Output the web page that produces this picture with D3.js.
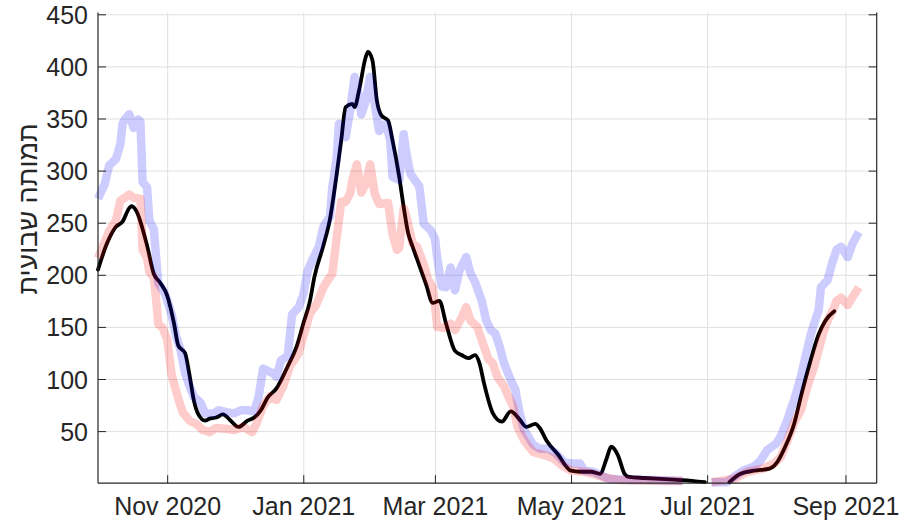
<!DOCTYPE html>
<html><head><meta charset="utf-8">
<script src="https://cdn.jsdelivr.net/npm/d3@7"></script>
<style>body{margin:0;background:#fff} svg{display:block}</style>
</head><body><svg id="c" width="909" height="526"></svg>
<script>
// ---- data ----
const xTickDates = ["2020-11-01","2021-01-01","2021-03-01","2021-05-01","2021-07-01","2021-09-01"];
const yTicks = [50,100,150,200,250,300,350,400,450];
const yLabel = "תמותה שבועית";

const blackSeries = [
["2020-10-01",205],["2020-10-05",230],["2020-10-09",246],["2020-10-12",251],["2020-10-15",264],["2020-10-16",266],
["2020-10-18",262],["2020-10-23",228],["2020-10-26",201],["2020-10-29",192],["2020-11-01",180],["2020-11-04",154],
["2020-11-06",132],["2020-11-09",125],["2020-11-11",104],["2020-11-13",79],["2020-11-15",66],["2020-11-18",60],
["2020-11-20",62],["2020-11-23",63],["2020-11-26",66],["2020-11-29",61],["2020-12-03",54],["2020-12-07",60],
["2020-12-10",63],["2020-12-13",70],["2020-12-16",82],["2020-12-20",91],["2020-12-25",112],["2020-12-29",131],
["2021-01-01",153],["2021-01-04",175],["2021-01-06",198],["2021-01-10",228],["2021-01-13",254],["2021-01-16",297],
["2021-01-18",329],["2021-01-20",361],["2021-01-23",364],["2021-01-24",361],["2021-01-26",377],["2021-01-29",409],
["2021-01-30",414],["2021-02-01",406],["2021-02-03",367],["2021-02-05",353],["2021-02-08",348],["2021-02-10",329],
["2021-02-13",294],["2021-02-15",265],["2021-02-17",240],["2021-02-19",227],["2021-02-21",215],["2021-02-25",191],
["2021-02-28",173],["2021-03-03",175],["2021-03-06",153],["2021-03-10",127],["2021-03-13",123],["2021-03-16",120],
["2021-03-19",123],["2021-03-21",115],["2021-03-23",96],["2021-03-27",67],["2021-03-31",59],["2021-04-04",69],
["2021-04-08",61],["2021-04-11",54],["2021-04-15",57],["2021-04-17",53],["2021-04-20",41],["2021-04-25",28],
["2021-05-01",12],["2021-05-05",11],["2021-05-10",11],["2021-05-14",9],["2021-05-17",24],["2021-05-19",35],
["2021-05-22",27],["2021-05-25",9],["2021-05-27",6],["2021-06-03",5],["2021-06-12",4],["2021-06-20",3],
["2021-06-30",1],["2021-07-05",null],["2021-07-11",1],["2021-07-16",9],["2021-07-22",12],["2021-07-29",14],
["2021-08-01",19],["2021-08-05",35],["2021-08-09",57],["2021-08-12",83],["2021-08-16",115],["2021-08-20",143],
["2021-08-23",156],["2021-08-27",165]
];

const blueSeries = [
["2020-10-01",273],["2020-10-04",287],["2020-10-06",305],["2020-10-09",311],["2020-10-11",325],["2020-10-12",345],
["2020-10-13",349],["2020-10-15",354],["2020-10-17",341],["2020-10-19",349],["2020-10-20",347],["2020-10-21",289],
["2020-10-23",284],["2020-10-24",252],["2020-10-26",244],["2020-10-28",192],["2020-10-31",182],["2020-11-03",162],
["2020-11-05",141],["2020-11-07",128],["2020-11-09",106],["2020-11-11",93],["2020-11-13",83],["2020-11-16",77],
["2020-11-18",67],["2020-11-22",67],["2020-11-24",70],["2020-11-28",68],["2020-12-01",67],["2020-12-04",70],
["2020-12-07",70],["2020-12-10",69],["2020-12-12",83],["2020-12-14",110],["2020-12-18",106],["2020-12-20",102],
["2020-12-22",118],["2020-12-25",122],["2020-12-27",162],["2020-12-30",169],["2021-01-01",181],["2021-01-03",204],
["2021-01-05",214],["2021-01-08",227],["2021-01-10",246],["2021-01-13",256],["2021-01-14",284],["2021-01-16",313],
["2021-01-17",345],["2021-01-20",332],["2021-01-22",358],["2021-01-24",390],["2021-01-26",370],["2021-01-27",354],
["2021-01-29",367],["2021-01-31",390],["2021-02-02",364],["2021-02-04",338],["2021-02-07",345],["2021-02-09",329],
["2021-02-10",294],["2021-02-13",291],["2021-02-15",335],["2021-02-16",319],["2021-02-18",297],["2021-02-20",291],
["2021-02-22",285],["2021-02-24",249],["2021-02-27",243],["2021-03-01",235],["2021-03-02",217],["2021-03-04",189],
["2021-03-06",188],["2021-03-08",207],["2021-03-10",185],["2021-03-12",204],["2021-03-15",217],["2021-03-17",201],
["2021-03-19",193],["2021-03-22",175],["2021-03-24",156],["2021-03-26",147],["2021-03-28",144],["2021-03-30",131],
["2021-04-01",115],["2021-04-04",99],["2021-04-06",90],["2021-04-08",67],["2021-04-10",51],["2021-04-14",37],
["2021-04-17",33],["2021-04-21",33],["2021-04-24",29],["2021-04-28",20],["2021-05-01",19],["2021-05-05",19],
["2021-05-07",12],["2021-05-11",11],["2021-05-14",8],["2021-05-18",4],["2021-05-27",3],["2021-06-07",3],
["2021-06-20",2],["2021-06-26",null],["2021-07-03",1],["2021-07-10",1],["2021-07-13",6],["2021-07-17",12],
["2021-07-22",16],["2021-07-25",22],["2021-07-28",32],["2021-08-01",38],["2021-08-03",45],["2021-08-06",61],
["2021-08-08",74],["2021-08-09",80],["2021-08-12",102],["2021-08-14",121],["2021-08-17",147],["2021-08-20",166],
["2021-08-21",188],["2021-08-24",195],["2021-08-26",211],["2021-08-28",224],["2021-08-30",227],["2021-09-02",217],
["2021-09-04",229],["2021-09-07",241]
];

const redSeries = [
["2020-10-01",216],["2020-10-03",226],["2020-10-06",242],["2020-10-09",252],["2020-10-11",271],["2020-10-13",274],
["2020-10-15",277],["2020-10-17",274],["2020-10-20",273],["2020-10-21",224],["2020-10-23",216],["2020-10-24",203],
["2020-10-26",197],["2020-10-27",178],["2020-10-28",153],["2020-10-30",149],["2020-11-01",138],["2020-11-03",104],
["2020-11-06",81],["2020-11-08",68],["2020-11-11",60],["2020-11-14",57],["2020-11-17",51],["2020-11-20",49],
["2020-11-23",53],["2020-11-28",52],["2020-12-01",51],["2020-12-05",54],["2020-12-09",49],["2020-12-11",57],
["2020-12-14",74],["2020-12-17",83],["2020-12-20",80],["2020-12-23",93],["2020-12-26",112],["2020-12-30",125],
["2021-01-01",141],["2021-01-04",163],["2021-01-07",172],["2021-01-10",188],["2021-01-12",195],["2021-01-14",201],
["2021-01-17",253],["2021-01-18",270],["2021-01-20",270],["2021-01-22",278],["2021-01-23",291],["2021-01-25",306],
["2021-01-27",279],["2021-01-29",287],["2021-01-31",306],["2021-02-02",278],["2021-02-04",268],["2021-02-08",269],
["2021-02-10",239],["2021-02-12",224],["2021-02-13",226],["2021-02-15",264],["2021-02-16",258],["2021-02-19",230],
["2021-02-21",227],["2021-02-24",210],["2021-02-26",195],["2021-02-28",188],["2021-03-01",172],["2021-03-02",150],
["2021-03-05",149],["2021-03-08",153],["2021-03-10",147],["2021-03-13",159],["2021-03-15",169],["2021-03-17",156],
["2021-03-20",150],["2021-03-23",131],["2021-03-25",119],["2021-03-27",115],["2021-03-29",102],["2021-04-01",93],
["2021-04-03",83],["2021-04-05",74],["2021-04-07",54],["2021-04-10",41],["2021-04-14",30],["2021-04-19",27],
["2021-04-23",24],["2021-04-27",17],["2021-05-01",12],["2021-05-07",11],["2021-05-11",9],["2021-05-15",6],
["2021-05-23",3],["2021-06-13",2],["2021-06-20",2],["2021-06-26",null],["2021-07-03",1],["2021-07-13",4],
["2021-07-19",11],["2021-07-26",14],["2021-07-31",19],["2021-08-03",25],["2021-08-06",41],["2021-08-09",58],
["2021-08-12",70],["2021-08-15",93],["2021-08-18",112],["2021-08-20",128],["2021-08-22",144],["2021-08-24",156],
["2021-08-27",169],["2021-08-28",175],["2021-08-30",178],["2021-09-02",171],["2021-09-04",178],["2021-09-07",188]
];

// ---- drawing ----
const parse = d3.utcParse("%Y-%m-%d");
const svg = d3.select("#c");
const L = 98, R = 876.7, T = 12.5, B = 483.2;
const x = d3.scaleUtc().domain([parse("2020-10-01"), parse("2021-09-15")]).range([L, R]);
const y = d3.scaleLinear().domain([0, 450]).range([B, 14.3]);
const font = "'Liberation Sans', Arial, Helvetica, sans-serif";
const ink = "#262626";
const gridC = "#dfdfdf";

// grid
const gx = svg.append("g").attr("transform", `translate(0,${B})`)
  .call(d3.axisBottom(x).tickValues(xTickDates.map(parse)).tickSize(-(B - T)).tickFormat(""));
gx.select(".domain").remove();
gx.selectAll("line").attr("stroke", gridC).attr("stroke-width", 1);
const gy = svg.append("g").attr("transform", `translate(${L},0)`)
  .call(d3.axisLeft(y).tickValues(yTicks).tickSize(-(R - L)).tickFormat(""));
gy.select(".domain").remove();
gy.selectAll("line").attr("stroke", gridC).attr("stroke-width", 1);

// lines
const lineSharp = d3.line()
  .defined(d => d[1] !== null)
  .x(d => x(parse(d[0])))
  .y(d => y(d[1]))
  .curve(d3.curveLinear);
const lineSmooth = d3.line()
  .defined(d => d[1] !== null)
  .x(d => x(parse(d[0])))
  .y(d => y(d[1]))
  .curve(d3.curveMonotoneX);

svg.append("path").datum(blackSeries).attr("d", lineSmooth)
  .attr("fill", "none").attr("stroke", "#000").attr("stroke-width", 3.8)
  .attr("stroke-linejoin", "round").attr("stroke-linecap", "round");
svg.append("path").datum(blueSeries).attr("d", lineSharp)
  .attr("fill", "none").attr("stroke", "rgb(0,0,255)").attr("stroke-opacity", 0.2).attr("stroke-width", 8.5)
  .attr("stroke-linejoin", "round").attr("stroke-linecap", "butt");
svg.append("path").datum(redSeries).attr("d", lineSharp)
  .attr("fill", "none").attr("stroke", "rgb(255,0,0)").attr("stroke-opacity", 0.2).attr("stroke-width", 8.5)
  .attr("stroke-linejoin", "round").attr("stroke-linecap", "butt");

// axes with ticks
const ax = svg.append("g").attr("transform", `translate(0,${B})`)
  .call(d3.axisBottom(x).tickValues(xTickDates.map(parse)).tickFormat(d3.utcFormat("%b %Y")).tickSize(-8).tickPadding(14));
ax.select(".domain").remove();
ax.selectAll("line").attr("stroke", ink);
ax.selectAll("text").attr("fill", ink).style("font-family", font).style("font-size", "25px");

const ay = svg.append("g").attr("transform", `translate(${L},0)`)
  .call(d3.axisLeft(y).tickValues(yTicks).tickSize(-8).tickPadding(10));
ay.select(".domain").remove();
ay.selectAll("line").attr("stroke", ink);
ay.selectAll("text").attr("fill", ink).attr("dy", "0.36em").style("font-family", font).style("font-size", "25px");

const ayr = svg.append("g").attr("transform", `translate(${R},0)`)
  .call(d3.axisRight(y).tickValues(yTicks).tickSize(-8).tickFormat(""));
ayr.select(".domain").remove();
ayr.selectAll("line").attr("stroke", ink);

// box
svg.append("line").attr("x1", L).attr("x2", L).attr("y1", T).attr("y2", B).attr("stroke", ink).attr("stroke-width", 1.2);
svg.append("line").attr("x1", R).attr("x2", R).attr("y1", T).attr("y2", B).attr("stroke", ink).attr("stroke-width", 1.2);
svg.append("line").attr("x1", L).attr("x2", R).attr("y1", B).attr("y2", B).attr("stroke", ink).attr("stroke-width", 1.2);

// y label
svg.append("text").attr("transform", "translate(37,209) rotate(-90)")
  .attr("text-anchor", "middle").attr("fill", ink)
  .style("font-family", font).style("font-size", "27px").text(yLabel);
</script></body></html>
